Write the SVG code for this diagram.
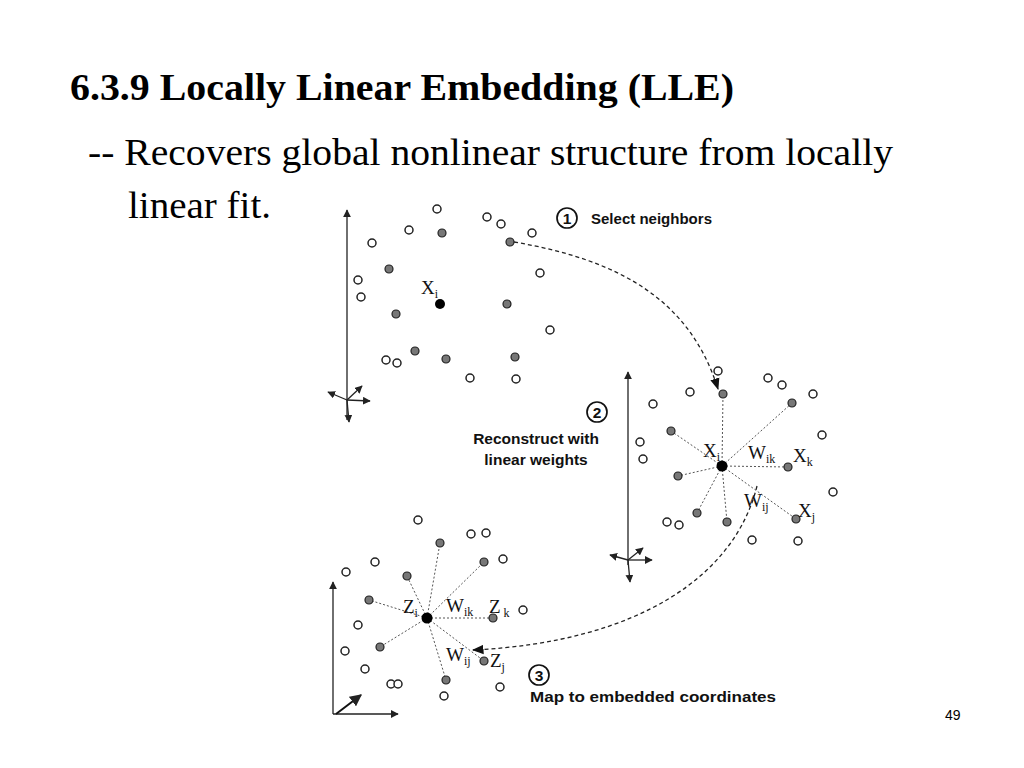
<svg xmlns="http://www.w3.org/2000/svg" width="1024" height="768" viewBox="0 0 1024 768">
<style>
.o{fill:#fff;stroke:#222;stroke-width:1.5}
.g{fill:#777;stroke:#222;stroke-width:1.2}
.k{fill:#000}
.ax{stroke:#222;stroke-width:1.3;fill:none}
.sp{stroke:#555;stroke-width:1;stroke-dasharray:2,2;fill:none}
.dash{stroke:#222;stroke-width:1.3;stroke-dasharray:4,3;fill:none}
.lab{font-family:"Liberation Sans",Arial,sans-serif;font-weight:bold;font-size:15.5px;fill:#111}
.m{font-family:"Liberation Serif","Times New Roman",serif;font-size:19px;fill:#111}
.s{font-size:12px}
</style>
<defs>
<marker id="ar" viewBox="0 0 10 10" refX="9" refY="5" markerWidth="6" markerHeight="6" orient="auto"><path d="M0,0L10,5L0,10z" fill="#222"/></marker>
<marker id="ad" viewBox="0 0 10 10" refX="9" refY="5" markerWidth="9" markerHeight="9" orient="auto"><path d="M0,1L10,5L0,9z" fill="#111"/></marker>
</defs>
<rect width="1024" height="768" fill="#fff"/>
<text x="70" y="100" font-family="Liberation Serif,serif" font-weight="bold" font-size="38" textLength="664" lengthAdjust="spacingAndGlyphs" fill="#000">6.3.9 Locally Linear Embedding (LLE)</text>
<text x="88" y="165" font-family="Liberation Serif,serif" font-size="37" textLength="805" lengthAdjust="spacingAndGlyphs" fill="#000">-- Recovers global nonlinear structure from locally</text>
<text x="128" y="218" font-family="Liberation Serif,serif" font-size="37" textLength="143" lengthAdjust="spacingAndGlyphs" fill="#000">linear fit.</text>
<text x="945" y="720" font-family="Liberation Sans,sans-serif" font-size="14" fill="#000">49</text>

<g id="panel1">
<path class="ax" d="M347,420V210" marker-end="url(#ar)"/>
<path class="ax" d="M347,400L328,392" marker-end="url(#ar)"/>
<path class="ax" d="M347,400L370,401" marker-end="url(#ar)"/>
<path class="ax" d="M347,400L362,386" marker-end="url(#ar)"/>
<path class="ax" d="M347,400L349,422" marker-end="url(#ar)"/>
<g class="o"><circle cx="437" cy="209" r="4"/><circle cx="487" cy="217" r="4"/><circle cx="501" cy="224" r="4"/><circle cx="409" cy="230" r="4"/><circle cx="372" cy="243" r="4"/><circle cx="532" cy="233" r="4"/><circle cx="540" cy="273" r="4"/><circle cx="358" cy="280" r="4"/><circle cx="361" cy="297" r="4"/><circle cx="550" cy="330" r="4"/><circle cx="386" cy="360" r="4"/><circle cx="397" cy="363" r="4"/><circle cx="470" cy="378" r="4"/><circle cx="516" cy="379" r="4"/></g>
<g class="g"><circle cx="442" cy="233" r="4"/><circle cx="510" cy="242" r="4"/><circle cx="389" cy="269" r="4"/><circle cx="507" cy="304" r="4"/><circle cx="396" cy="314" r="4"/><circle cx="415" cy="351" r="4"/><circle cx="446" cy="359" r="4"/><circle cx="515" cy="357" r="4"/></g>
<circle class="k" cx="440" cy="304" r="5"/>
<text class="m" x="421" y="294">X<tspan class="s" dy="4">i</tspan></text>
</g>

<g id="panel2">
<path class="ax" d="M628,565V372" marker-end="url(#ar)"/>
<path class="ax" d="M628,560L610,555" marker-end="url(#ar)"/>
<path class="ax" d="M628,560L652,560" marker-end="url(#ar)"/>
<path class="ax" d="M628,560L643,548" marker-end="url(#ar)"/>
<path class="ax" d="M628,560L630,582" marker-end="url(#ar)"/>
<g class="sp"><path d="M722,466L723,394M722,466L792,403M722,466L671,431M722,466L788,467M722,466L678,476M722,466L697,513M722,466L727,522M722,466L796,519"/></g>
<g class="o"><circle cx="718" cy="371" r="4"/><circle cx="768" cy="378" r="4"/><circle cx="782" cy="385" r="4"/><circle cx="690" cy="392" r="4"/><circle cx="813" cy="394" r="4"/><circle cx="653" cy="404" r="4"/><circle cx="822" cy="435" r="4"/><circle cx="640" cy="442" r="4"/><circle cx="643" cy="459" r="4"/><circle cx="833" cy="492" r="4"/><circle cx="667" cy="522" r="4"/><circle cx="679" cy="525" r="4"/><circle cx="752" cy="540" r="4"/><circle cx="798" cy="541" r="4"/></g>
<g class="g"><circle cx="723" cy="394" r="4"/><circle cx="792" cy="403" r="4"/><circle cx="671" cy="431" r="4"/><circle cx="788" cy="467" r="4"/><circle cx="678" cy="476" r="4"/><circle cx="697" cy="513" r="4"/><circle cx="727" cy="522" r="4"/><circle cx="796" cy="519" r="4"/></g>
<circle class="k" cx="722" cy="466" r="5.5"/>
<text class="m" x="703" y="457">X<tspan class="s" dy="4">i</tspan></text>
<text class="m" x="748" y="459">W<tspan class="s" dy="4">ik</tspan></text>
<text class="m" x="793" y="462">X<tspan class="s" dy="4">k</tspan></text>
<text class="m" x="744" y="507">W<tspan class="s" dy="4">ij</tspan></text>
<text class="m" x="798" y="517">X<tspan class="s" dy="4">j</tspan></text>
</g>

<g id="panel3">
<path class="ax" d="M333,714V582" marker-end="url(#ar)"/>
<path class="ax" d="M333,714H398" marker-end="url(#ar)"/>
<path d="M336,714L361,695" stroke="#111" stroke-width="2" fill="none" marker-end="url(#ar)"/>
<g class="sp"><path d="M427,618L440,543M427,618L484,562M427,618L407,576M427,618L369,600M427,618L493,618M427,618L380,647M427,618L484,661M427,618L446,680"/></g>
<g class="o"><circle cx="418" cy="520" r="4"/><circle cx="471" cy="534" r="4"/><circle cx="486" cy="533" r="4"/><circle cx="375" cy="562" r="4"/><circle cx="503" cy="559" r="4"/><circle cx="346" cy="572" r="4"/><circle cx="523" cy="610" r="4"/><circle cx="358" cy="625" r="4"/><circle cx="345" cy="651" r="4"/><circle cx="365" cy="669" r="4"/><circle cx="391" cy="684" r="4"/><circle cx="398" cy="684" r="4"/><circle cx="444" cy="696" r="4"/><circle cx="500" cy="687" r="4"/></g>
<g class="g"><circle cx="440" cy="543" r="4"/><circle cx="484" cy="562" r="4"/><circle cx="407" cy="576" r="4"/><circle cx="369" cy="600" r="4"/><circle cx="493" cy="618" r="4"/><circle cx="380" cy="647" r="4"/><circle cx="484" cy="661" r="4"/><circle cx="446" cy="680" r="4"/></g>
<circle class="k" cx="427" cy="618" r="5.5"/>
<text class="m" x="403" y="613">Z<tspan class="s" dy="4">i</tspan></text>
<text class="m" x="446" y="612">W<tspan class="s" dy="4">ik</tspan></text>
<text class="m" x="489" y="613">Z<tspan class="s" dy="4"> k</tspan></text>
<text class="m" x="446" y="661">W<tspan class="s" dy="4">ij</tspan></text>
<text class="m" x="490" y="667">Z<tspan class="s" dy="4">j</tspan></text>
</g>

<g id="connectors">
<path class="dash" d="M514,242C620,260 690,300 718,389" marker-end="url(#ad)"/>
<path class="dash" d="M757,486C735,575 640,642 473,650" marker-end="url(#ad)"/>
</g>

<g id="labels" class="lab">
<circle cx="567" cy="218" r="10" fill="none" stroke="#111" stroke-width="1.7"/><text x="567" y="224" text-anchor="middle">1</text>
<text x="591" y="224" textLength="121" lengthAdjust="spacingAndGlyphs">Select neighbors</text>
<circle cx="597" cy="412" r="10" fill="none" stroke="#111" stroke-width="1.7"/><text x="597" y="418" text-anchor="middle">2</text>
<text x="536" y="444" text-anchor="middle">Reconstruct with</text>
<text x="536" y="465" text-anchor="middle">linear weights</text>
<circle cx="539" cy="675" r="10" fill="none" stroke="#111" stroke-width="1.7"/><text x="539" y="681" text-anchor="middle">3</text>
<text x="530" y="702" textLength="246" lengthAdjust="spacingAndGlyphs">Map to embedded coordinates</text>
</g>
</svg>
